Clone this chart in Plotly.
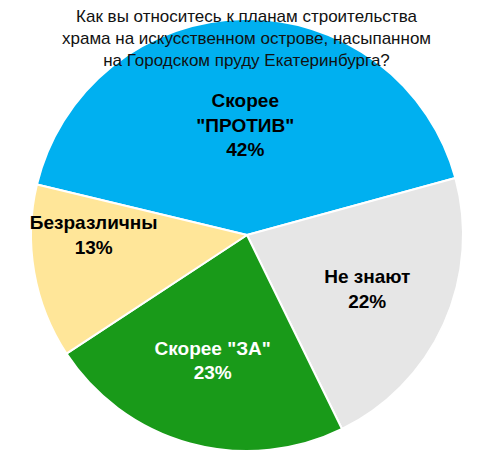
import plotly.graph_objects as go

# survey answers, clockwise from the "against" slice
labels = ['Скорее<br>"ПРОТИВ"', "Не знают", 'Скорее "ЗА"', "Безразличны"]
values = [42, 22, 23, 13]
colors = ["#00B0F0", "#E6E6E6", "#199A19", "#FFE699"]
text_colors = ["#000000", "#000000", "#FFFFFF", "#000000"]

title_lines = [
    "Как вы относитесь к планам строительства",
    "храма на искусственном острове, насыпанном",
    "на Городском пруду Екатеринбурга?",
]

fig = go.Figure(go.Pie(
    labels=labels,
    values=values,
    sort=False,
    direction="clockwise",
    rotation=-76.5,
    marker=dict(colors=colors, line=dict(color="white", width=2)),
    texttemplate="<b>%{label}<br>%{value}%</b>",
    textposition="inside",
    insidetextorientation="horizontal",
    insidetextfont=dict(family="Liberation Sans, Arial", size=19, color=text_colors),
    hoverinfo="label+percent",
    domain=dict(x=[31 / 490, 463 / 490], y=[1 / 452, 433 / 452]),
))

fig.add_annotation(
    text="<br>".join(title_lines),
    x=0.504, y=1 - 5 / 452, xref="paper", yref="paper",
    xanchor="center", yanchor="top",
    showarrow=False,
    font=dict(family="Liberation Sans, Arial", size=17, color="#111111"),
)

fig.update_layout(
    width=490, height=452,
    margin=dict(l=0, r=0, t=0, b=0),
    paper_bgcolor="white",
    showlegend=False,
    uniformtext=dict(minsize=19, mode="show"),
)

# drop the browser's default body margin so the figure sits at 0,0
fig.write_html("out.html", config={"displayModeBar": False},
               post_script="document.body.style.margin='0';")
